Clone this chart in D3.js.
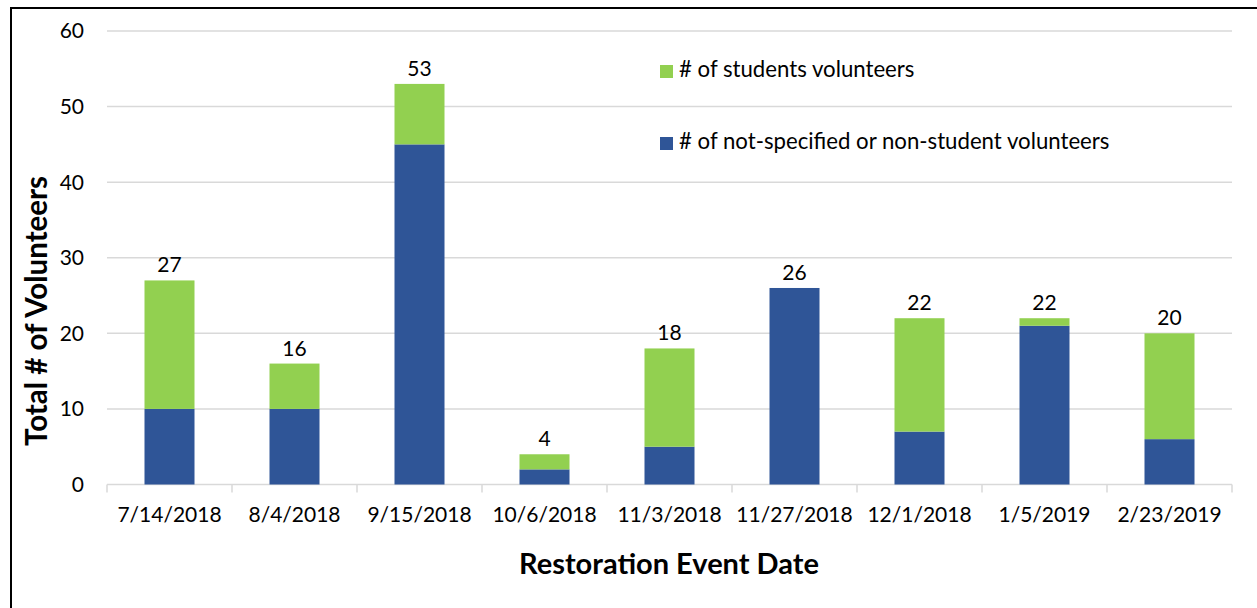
<!DOCTYPE html>
<html>
<head>
<meta charset="utf-8">
<script src="https://cdn.jsdelivr.net/npm/d3@7"></script>
<style>
  body { margin: 0; background: #fff; }
  svg text { font-family: Lato, "Noto Sans", sans-serif; fill: #000; }
</style>
</head>
<body>
<div id="chart"></div>
<script>
// event dates and the two stacked series
let dates = ["7/14/2018", "8/4/2018", "9/15/2018", "10/6/2018", "11/3/2018",
    "11/27/2018", "12/1/2018", "1/5/2019", "2/23/2019"]
let otherVolunteers = [10, 10, 45, 2, 5, 26, 7, 21, 6]
let studentVolunteers = [17, 6, 8, 2, 13, 0, 15, 1, 14]
let yTicks = [0, 10, 20, 30, 40, 50, 60]
let seriesNames = ["# of students volunteers", "# of not-specified or non-student volunteers"]

let W = 1257, H = 608
let margin = {top: 31, right: 25, bottom: 123.5, left: 107}
let width = W - margin.left - margin.right
let height = H - margin.top - margin.bottom

let svg = d3.select("#chart")
    .append("svg")
    .attr("width", W)
    .attr("height", H)

// outer frame (only left & top edges are visible in the original crop)
svg.append("rect")
    .attr("x", 11).attr("y", 8)
    .attr("width", 1400).attr("height", 800)
    .attr("fill", "none")
    .attr("stroke", "#000")
    .attr("stroke-width", 2)

let g = svg.append("g")
    .attr("transform", "translate(" + margin.left + "," + margin.top + ")")

let x = d3.scaleBand().domain(dates).range([0, width]).padding(0)
let y = d3.scaleLinear().domain([0, 60]).range([height, 0])

// gridlines
g.append("g")
    .selectAll("line")
    .data(yTicks.filter(d => d > 0))
    .enter()
    .append("line")
    .attr("x1", 0).attr("x2", width)
    .attr("y1", d => y(d)).attr("y2", d => y(d))
    .attr("stroke", "#d9d9d9")
    .attr("stroke-width", 1.5)

// y tick labels
g.append("g")
    .selectAll("text")
    .data(yTicks)
    .enter()
    .append("text")
    .attr("x", -23)
    .attr("y", d => y(d))
    .attr("dy", "0.35em")
    .attr("text-anchor", "end")
    .style("font-size", "21px")
    .text(d => d)

// x axis
let xAxis = g.append("g")
    .attr("transform", "translate(0," + height + ")")
xAxis.append("line")
    .attr("x1", 0).attr("x2", width)
    .attr("stroke", "#d9d9d9").attr("stroke-width", 1.5)
xAxis.selectAll(".tick")
    .data(dates.concat(["end"]))
    .enter()
    .append("line")
    .attr("x1", (d, i) => i < dates.length ? x(d) : width)
    .attr("x2", (d, i) => i < dates.length ? x(d) : width)
    .attr("y1", 0).attr("y2", 8)
    .attr("stroke", "#d9d9d9").attr("stroke-width", 1.5)
xAxis.selectAll(".label")
    .data(dates)
    .enter()
    .append("text")
    .attr("x", d => x(d) + x.bandwidth() / 2)
    .attr("y", 37)
    .attr("text-anchor", "middle")
    .style("font-size", "21px")
    .text(d => d)

// stacked bars
let barW = x.bandwidth() * 0.4
let bars = g.append("g")
dates.forEach((d, i) => {
    let cx = x(d) + x.bandwidth() / 2
    let lo = otherVolunteers[i]
    let hi = lo + studentVolunteers[i]
    bars.append("rect")
        .attr("x", cx - barW / 2)
        .attr("y", y(lo))
        .attr("width", barW)
        .attr("height", y(0) - y(lo))
        .attr("fill", "#2f5597")
    if (studentVolunteers[i] > 0) {
        bars.append("rect")
            .attr("x", cx - barW / 2)
            .attr("y", y(hi))
            .attr("width", barW)
            .attr("height", y(lo) - y(hi))
            .attr("fill", "#92d050")
    }
    bars.append("text")
        .attr("x", cx)
        .attr("y", y(hi) - 8)
        .attr("text-anchor", "middle")
        .style("font-size", "21px")
        .text(hi)
})

// legend
let legend = svg.append("g")
let legendColors = ["#92d050", "#2f5597"]
let legendY = [77, 149]
seriesNames.forEach((name, i) => {
    legend.append("rect")
        .attr("x", 660).attr("y", legendY[i] - 12)
        .attr("width", 13).attr("height", 13)
        .attr("fill", legendColors[i])
    legend.append("text")
        .attr("x", 679).attr("y", legendY[i])
        .style("font-size", "22.2px")
        .text(name)
})

// axis titles
svg.append("text")
    .attr("transform", "translate(47,311) rotate(-90)")
    .attr("text-anchor", "middle")
    .style("font-size", "29.5px")
    .style("font-weight", "bold")
    .text("Total # of Volunteers")

svg.append("text")
    .attr("x", 669)
    .attr("y", 574)
    .attr("text-anchor", "middle")
    .style("font-size", "29px")
    .style("font-weight", "bold")
    .text("Restoration Event Date")
</script>
</body>
</html>
